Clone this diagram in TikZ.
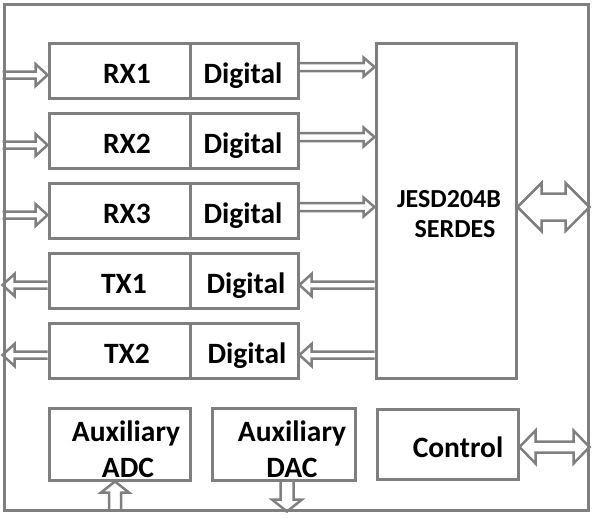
\documentclass[tikz,border=0pt]{standalone}
\usepackage{fontspec}
\setmainfont{Carlito}
\usetikzlibrary{calc}
\definecolor{lineg}{HTML}{7F7F7F}
\tikzset{
  blk/.style={draw=lineg, line width=3pt, rectangle, inner sep=0pt, minimum width=#1},
  blk/.default=141pt,
  lbl/.style={font=\fontsize{29.5}{33}\bfseries\selectfont, inner sep=0pt, anchor=base},
  lbls/.style={font=\fontsize{26}{30}\bfseries\selectfont, inner sep=0pt, anchor=base},
  arr/.style={draw=lineg, line width=2.5pt, line join=miter},
}
% single fat arrow: #1 tail, #2 tip, #3 shaft half width, #4 head half width, #5 head length
\newcommand\fatarrow[5]{%
  \coordinate (fa-A) at (#1);
  \coordinate (fa-B) at (#2);
  \coordinate (fa-H) at ($(fa-B)!#5!(fa-A)$);
  \draw[arr] ($(fa-A)!#3!90:(fa-B)$) -- ($(fa-H)!#3!90:(fa-B)$) -- ($(fa-H)!#4!90:(fa-B)$)
    -- (fa-B) -- ($(fa-H)!#4!-90:(fa-B)$) -- ($(fa-H)!#3!-90:(fa-B)$) -- ($(fa-A)!#3!-90:(fa-B)$);
}
% double fat arrow
\newcommand\dblarrow[5]{%
  \coordinate (fa-A) at (#1);
  \coordinate (fa-B) at (#2);
  \coordinate (fa-H) at ($(fa-B)!#5!(fa-A)$);
  \coordinate (fa-G) at ($(fa-A)!#5!(fa-B)$);
  \draw[arr] (fa-A) -- ($(fa-G)!#4!-90:(fa-A)$) -- ($(fa-G)!#3!-90:(fa-A)$) -- ($(fa-H)!#3!90:(fa-B)$) -- ($(fa-H)!#4!90:(fa-B)$)
    -- (fa-B) -- ($(fa-H)!#4!-90:(fa-B)$) -- ($(fa-H)!#3!-90:(fa-B)$) -- ($(fa-G)!#3!90:(fa-A)$) -- ($(fa-G)!#4!90:(fa-A)$) -- cycle;
}
\begin{document}
\begin{tikzpicture}[x=1pt,y=-1pt]
\useasboundingbox (0,0) rectangle (593,517);
\node[blk=584pt, minimum height=506pt] (frame) at (296,257) {};
% rows
\node[blk, minimum height=55pt] (rx1) at (119.5,70.5) {};
\node[blk=108pt, minimum height=55pt] (rx1d) at (244,70.5) {};
\node[blk, minimum height=55pt] (rx2) at (119.5,140.5) {};
\node[blk=108pt, minimum height=55pt] (rx2d) at (244,140.5) {};
\node[blk, minimum height=55pt] (rx3) at (119.5,210.5) {};
\node[blk=108pt, minimum height=55pt] (rx3d) at (244,210.5) {};
\node[blk, minimum height=55pt] (tx1) at (119.5,280.5) {};
\node[blk=108pt, minimum height=55pt] (tx1d) at (244,280.5) {};
\node[blk, minimum height=55pt] (tx2) at (119.5,350.5) {};
\node[blk=108pt, minimum height=55pt] (tx2d) at (244,350.5) {};
\node[blk=140pt, minimum height=335pt] (jesd) at (446,210.5) {};
\node[blk, minimum height=72pt] (adc) at (119.5,444) {};
\node[blk=143pt, minimum height=72pt] (dac) at (283.5,444) {};
\node[blk, minimum height=70pt] (ctrl) at (447.5,444) {};
% texts
\node[lbl] (trx1) at (127,83) {RX1};
\node[lbl] (trx1d) at (243,83) {Digital};
\node[lbl] (trx2) at (127,153) {RX2};
\node[lbl] (trx2d) at (243,153) {Digital};
\node[lbl] (trx3) at (127,223) {RX3};
\node[lbl] (trx3d) at (243,223) {Digital};
\node[lbl] (ttx1) at (124,293) {TX1};
\node[lbl] (ttx1d) at (246,293) {Digital};
\node[lbl] (ttx2) at (127,363) {TX2};
\node[lbl] (ttx2d) at (247,363) {Digital};
\node[lbls] (tj1) at (449,207) {JESD204B};
\node[lbls] (tj2) at (455,237) {SERDES};
\node[lbl] (tadc1) at (126,441) {Auxiliary};
\node[lbl] (tadc2) at (128,477) {ADC};
\node[lbl] (tdac1) at (292,441) {Auxiliary};
\node[lbl] (tdac2) at (292,477) {DAC};
\node[lbl] (tctl) at (458,457) {Control};
% RX inputs
\foreach \r in {rx1,rx2,rx3}{
  \fatarrow{frame.west |- {$(\r.center)+(0,4.5)$}}{\r.west |- {$(\r.center)+(0,4.5)$}}{3.5pt}{11pt}{12pt}
}
% digital -> jesd
\foreach \r in {rx1d,rx2d,rx3d}{
  \fatarrow{$(\r.east)+(0,-3.5)$}{jesd.west |- {$(\r.east)+(0,-3.5)$}}{4pt}{9.5pt}{11pt}
}
% jesd -> tx digital
\foreach \r in {tx1d,tx2d}{
  \fatarrow{jesd.west |- {$(\r.east)+(0,4.5)$}}{$(\r.east)+(0,4.5)$}{3.5pt}{11pt}{12pt}
}
% TX outputs
\foreach \r in {tx1,tx2}{
  \fatarrow{$(\r.west)+(0,4.5)$}{frame.west |- {$(\r.west)+(0,4.5)$}}{3.5pt}{11pt}{12pt}
}
% serdes double arrow
\dblarrow{$(jesd.east)+(0,-3.5)$}{frame.east |- {$(jesd.east)+(0,-3.5)$}}{13.5pt}{24pt}{24pt}
% control double arrow
\dblarrow{$(ctrl.east)+(0,3)$}{frame.east |- {$(ctrl.east)+(0,3)$}}{5.5pt}{16.5pt}{16pt}
% adc up, dac down
\fatarrow{frame.south -| {$(adc.south)+(-4.5,0)$}}{$(adc.south)+(-4.5,0)$}{6pt}{14pt}{11pt}
\fatarrow{$(dac.south)+(3.5,0)$}{frame.south -| {$(dac.south)+(3.5,0)$}}{6.5pt}{15pt}{12pt}
\end{tikzpicture}
\end{document}
